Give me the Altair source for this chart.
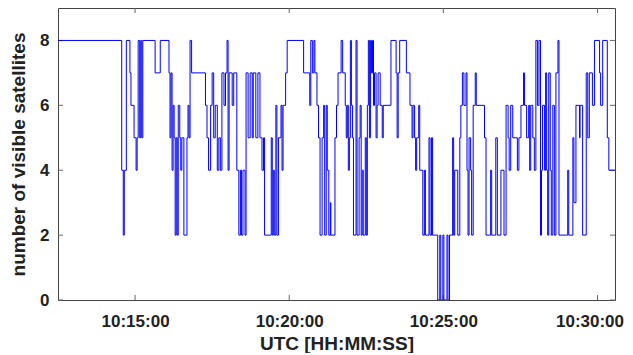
import altair as alt
import pandas as pd

start_time = "2000-01-01 10:12:30"

# elapsed seconds since start_time, and number of visible satellites (step-after)
elapsed_s = [
    0, 124, 127, 129, 133, 140, 142, 148, 152, 154,
    156, 159, 161, 163, 165, 189, 199, 216, 218, 220,
    222, 224, 226, 228, 230, 232, 234, 237, 239, 241,
    245, 251, 253, 255, 257, 260, 287, 290, 293, 297,
    300, 303, 306, 310, 313, 316, 319, 323, 326, 329,
    331, 333, 339, 342, 348, 352, 355, 357, 360, 364,
    366, 370, 374, 378, 380, 385, 389, 393, 397, 400,
    402, 415, 417, 419, 421, 424, 426, 429, 434, 436,
    438, 443, 446, 478, 490, 492, 495, 498, 500, 504,
    507, 510, 514, 517, 519, 522, 524, 527, 530, 531,
    539, 542, 545, 551, 554, 559, 561, 563, 565, 567,
    569, 571, 573, 575, 580, 582, 586, 588, 590, 592,
    594, 598, 600, 602, 604, 606, 608, 610, 612, 614,
    616, 619, 621, 623, 627, 631, 633, 648, 658, 660,
    662, 665, 678, 685, 689, 691, 694, 696, 698, 702,
    704, 710, 713, 715, 722, 724, 727, 729, 739, 743,
    745, 749, 751, 757, 759, 762, 768, 770, 772, 778,
    782, 784, 787, 790, 794, 796, 798, 800, 803, 805,
    808, 812, 814, 830, 833, 842, 844, 852, 855, 862,
    868, 872, 876, 878, 881, 885, 894, 897, 901, 906,
    908, 912, 916, 918, 920, 924, 927, 930, 933, 936,
    939, 941, 943, 947, 949, 951, 953, 955, 958, 960,
    963, 966, 969, 973, 975, 992, 994, 1002, 1004, 1008,
    1015, 1016, 1021, 1028, 1031, 1034, 1040, 1044, 1054, 1056,
    1060, 1069, 1072, 1084,
]
satellites = [
    8, 4, 2, 4, 8, 7, 6, 5, 4, 5,
    8, 5, 8, 5, 8, 7, 8, 7, 5, 7,
    4, 6, 5, 2, 5, 2, 6, 5, 4, 5,
    2, 5, 6, 5, 8, 7, 6, 5, 4, 6,
    7, 5, 6, 4, 5, 4, 7, 6, 7, 8,
    4, 7, 6, 7, 4, 2, 4, 2, 4, 2,
    7, 5, 7, 5, 7, 5, 7, 5, 4, 5,
    2, 5, 2, 4, 2, 6, 2, 5, 6, 4,
    6, 7, 8, 7, 6, 8, 7, 8, 7, 6,
    5, 2, 5, 6, 2, 6, 4, 2, 3, 2,
    5, 6, 7, 8, 7, 6, 5, 6, 4, 5,
    8, 6, 5, 2, 8, 2, 5, 6, 2, 4,
    2, 5, 2, 6, 8, 5, 8, 7, 8, 6,
    7, 5, 6, 7, 6, 5, 6, 8, 7, 5,
    7, 8, 7, 6, 5, 6, 5, 4, 5, 6,
    4, 2, 4, 2, 5, 2, 5, 2, 0, 2,
    0, 2, 0, 2, 0, 2, 5, 2, 4, 2,
    5, 6, 7, 6, 7, 4, 2, 5, 4, 2,
    6, 7, 6, 5, 2, 4, 2, 5, 2, 4,
    2, 6, 5, 4, 6, 5, 4, 5, 6, 7,
    6, 5, 6, 4, 6, 5, 4, 8, 6, 8,
    2, 4, 6, 4, 7, 4, 2, 7, 4, 2,
    6, 2, 7, 8, 2, 4, 2, 5, 3, 6,
    5, 6, 2, 7, 5, 7, 6, 8, 7, 6,
    8, 5, 4, 4,
]
assert len(elapsed_s) == len(satellites)

x_tick_times = ["2000-01-01 10:15:00", "2000-01-01 10:20:00",
                "2000-01-01 10:25:00", "2000-01-01 10:30:00"]
y_tick_values = [0, 2, 4, 6, 8]

W, H = 557, 292

df = pd.DataFrame({
    "time": pd.Timestamp(start_time) + pd.to_timedelta(elapsed_s, unit="s"),
    "n": satellites,
})
xt = pd.DataFrame({"time": pd.to_datetime(x_tick_times)})
yt = pd.DataFrame({"n": y_tick_values})

def dt(h, m, s):
    return alt.DateTime(year=2000, month=1, date=1, hours=h, minutes=m, seconds=s)

xscale = alt.Scale(domain=[dt(10, 12, 30), dt(10, 30, 34)], nice=False)
yscale = alt.Scale(domain=[0, 9], nice=False)

line = alt.Chart(df).mark_line(
    interpolate="step-after", color="#0000ff", strokeWidth=1, clip=True
).encode(
    x=alt.X("time:T", scale=xscale,
            axis=alt.Axis(values=[dt(10, 15, 0), dt(10, 20, 0), dt(10, 25, 0), dt(10, 30, 0)],
                          format="%H:%M:%S", title="UTC [HH:MM:SS]",
                          labelPadding=13, labelFlush=20, labelFlushOffset=26,
                          titleY=43, titleBaseline="middle")),
    y=alt.Y("n:Q", scale=yscale,
            axis=alt.Axis(values=y_tick_values, title="number of visible satellites",
                          labelPadding=9, titleX=-40, titleBaseline="middle")),
)

tick_color = "#666666"
xt_bottom = alt.Chart(xt).mark_rule(color=tick_color, strokeWidth=1).encode(
    x=alt.X("time:T", scale=xscale), y=alt.value(H), y2=alt.value(H - 5))
xt_top = alt.Chart(xt).mark_rule(color=tick_color, strokeWidth=1).encode(
    x=alt.X("time:T", scale=xscale), y=alt.value(0), y2=alt.value(5))
yt_left = alt.Chart(yt).mark_rule(color=tick_color, strokeWidth=1).encode(
    y=alt.Y("n:Q", scale=yscale), x=alt.value(0), x2=alt.value(5))
yt_right = alt.Chart(yt).mark_rule(color=tick_color, strokeWidth=1).encode(
    y=alt.Y("n:Q", scale=yscale), x=alt.value(W), x2=alt.value(W - 5))

chart = alt.layer(xt_bottom, xt_top, yt_left, yt_right, line).properties(
    width=W, height=H,
    autosize=alt.AutoSizeParams(type="none"),
    padding={"left": 50, "top": 0, "right": 10, "bottom": 53},
).configure_view(
    stroke="#444444", strokeWidth=1
).configure_axis(
    grid=False, domain=False, ticks=False, tickSize=0,
    labelFont="Liberation Sans", labelFontSize=17, labelFontWeight="bold", labelColor="#222222",
    titleFont="Liberation Sans", titleFontSize=19, titleFontWeight="bold", titleColor="#222222",
)

chart.save("out.html", embed_options={"renderer": "svg", "actions": False})
